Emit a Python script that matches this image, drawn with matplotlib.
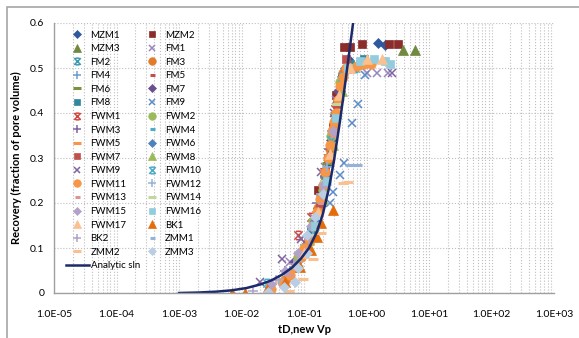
import matplotlib
matplotlib.use('Agg')
import matplotlib.pyplot as plt
from matplotlib.path import Path
from matplotlib.patches import Rectangle
from matplotlib.ticker import FixedLocator, LogLocator, NullFormatter

plt.rcParams['font.family'] = ['Lato', 'DejaVu Sans']

# x-star marker (x with bars top and bottom), like Excel's "star"
xstar = Path([(-1, -1), (1, 1), (-1, 1), (1, -1), (-0.6, 1), (0.6, 1), (-0.6, -1), (0.6, -1)],
             [Path.MOVETO, Path.LINETO, Path.MOVETO, Path.LINETO,
              Path.MOVETO, Path.LINETO, Path.MOVETO, Path.LINETO])

series_names = ['MZM1', 'MZM2', 'MZM3', 'FM1', 'FM2', 'FM3', 'FM4', 'FM5', 'FM6', 'FM7', 'FM8', 'FM9',
                'FWM1', 'FWM2', 'FWM3', 'FWM4', 'FWM5', 'FWM6', 'FWM7', 'FWM8', 'FWM9', 'FWM10',
                'FWM11', 'FWM12', 'FWM13', 'FWM14', 'FWM15', 'FWM16', 'FWM17', 'BK1', 'BK2',
                'ZMM1', 'ZMM2', 'ZMM3']

mzm1_x = [0.11, 0.17, 0.24, 0.3, 0.37, 0.5, 1.5, 2.0]
mzm1_y = [0.11, 0.19, 0.29, 0.37, 0.45, 0.52, 0.555, 0.55]
mzm2_x = [0.1, 0.17, 0.22, 0.29, 0.33, 0.4, 0.43, 0.55, 0.85, 2.3, 3.2]
mzm2_y = [0.09, 0.23, 0.27, 0.37, 0.44, 0.48, 0.547, 0.547, 0.553, 0.553, 0.553]
mzm3_x = [0.14, 0.22, 0.32, 0.45, 3.8, 5.9]
mzm3_y = [0.15, 0.26, 0.4, 0.5, 0.54, 0.54]
fm1_x = [0.06, 0.14, 0.22, 0.33, 1.0, 1.45, 2.2]
fm1_y = [0.07, 0.17, 0.28, 0.43, 0.49, 0.49, 0.49]
fm2_x = [0.07, 0.13, 0.21, 0.3, 0.52]
fm2_y = [0.06, 0.13, 0.25, 0.39, 0.5]
fm3_x = [0.05, 0.09, 0.13, 0.17, 0.22, 0.26, 0.3, 0.35, 0.42]
fm3_y = [0.03, 0.08, 0.13, 0.19, 0.26, 0.32, 0.37, 0.43, 0.49]
fm4_x = [0.06, 0.11, 0.19, 0.28, 0.4]
fm4_y = [0.05, 0.11, 0.22, 0.36, 0.48]
fm5_x = [0.08, 0.15, 0.25, 0.36]
fm5_y = [0.07, 0.17, 0.31, 0.44]
fm6_x = [0.09, 0.16, 0.23, 0.31]
fm6_y = [0.09, 0.18, 0.29, 0.4]
fm7_x = [0.07, 0.12, 0.2, 0.27, 0.35]
fm7_y = [0.07, 0.12, 0.24, 0.34, 0.45]
fm8_x = [0.13, 0.19, 0.26, 0.55, 0.9]
fm8_y = [0.14, 0.21, 0.3, 0.51, 0.52]
fm9_x = [0.26, 0.29, 0.38, 0.44, 0.59, 0.73, 0.95]
fm9_y = [0.2, 0.224, 0.262, 0.29, 0.378, 0.42, 0.484]
fwm1_x = [0.079, 0.13, 0.21, 0.31]
fwm1_y = [0.128, 0.17, 0.27, 0.41]
fwm2_x = [0.08, 0.14, 0.2, 0.27, 0.38]
fwm2_y = [0.08, 0.16, 0.23, 0.35, 0.47]
fwm3_x = [0.05, 0.09, 0.16, 0.25]
fwm3_y = [0.05, 0.09, 0.2, 0.32]
fwm4_x = [0.1, 0.18, 0.27, 0.42]
fwm4_y = [0.1, 0.2, 0.33, 0.49]
fwm5_x = [0.07, 0.12, 0.2, 0.3]
fwm5_y = [0.05, 0.11, 0.22, 0.37]
fwm6_x = [0.09, 0.15, 0.22, 0.31, 0.45, 0.8]
fwm6_y = [0.09, 0.16, 0.26, 0.38, 0.5, 0.51]
fwm7_x = [0.11, 0.18, 0.24, 0.34, 0.47]
fwm7_y = [0.11, 0.2, 0.3, 0.42, 0.52]
fwm8_x = [0.12, 0.2, 0.29, 0.41, 0.7]
fwm8_y = [0.12, 0.21, 0.33, 0.45, 0.51]
fwm9_x = [0.02, 0.045, 0.09, 0.19, 0.3, 0.6, 2.6]
fwm9_y = [0.025, 0.075, 0.12, 0.27, 0.4, 0.5, 0.49]
fwm10_x = [0.026, 0.1, 0.18, 0.27, 0.4, 0.65]
fwm10_y = [0.022, 0.1, 0.21, 0.34, 0.48, 0.5]
fwm11_x = [0.03, 0.045, 0.06, 0.075, 0.09, 0.1, 0.12, 0.14, 0.16, 0.18, 0.2, 0.22, 0.24,
           0.26, 0.28, 0.3, 0.32, 0.35, 0.38, 0.42, 0.47, 0.55, 0.7, 0.9, 1.2]
fwm11_y = [0.01, 0.025, 0.04, 0.06, 0.08, 0.1, 0.12, 0.15, 0.18, 0.21, 0.24, 0.27, 0.3,
           0.33, 0.36, 0.38, 0.4, 0.43, 0.46, 0.48, 0.5, 0.5, 0.505, 0.51, 0.51]
fwm12_x = [0.04, 0.08, 0.14, 0.23]
fwm12_y = [0.03, 0.07, 0.14, 0.28]
fwm13_x = [0.06, 0.11, 0.19, 0.29]
fwm13_y = [0.04, 0.1, 0.2, 0.35]
fwm14_x = [0.08, 0.14, 0.22, 0.34]
fwm14_y = [0.06, 0.13, 0.25, 0.42]
fwm15_x = [0.03, 0.05, 0.08, 0.13, 0.2, 0.29]
fwm15_y = [0.02, 0.05, 0.09, 0.15, 0.24, 0.36]
fwm16_x = [0.15, 0.23, 0.32, 0.5, 0.8, 1.3, 2.0, 2.4]
fwm16_y = [0.15, 0.25, 0.39, 0.5, 0.515, 0.52, 0.515, 0.51]
fwm17_x = [0.1, 0.17, 0.26, 0.36, 0.55, 1.0, 1.8]
fwm17_y = [0.09, 0.18, 0.31, 0.44, 0.5, 0.52, 0.52]
bk1_x = [0.007, 0.0114, 0.026, 0.05, 0.087, 0.13, 0.16, 0.19, 0.29]
bk1_y = [0.0, 0.0, 0.01, 0.024, 0.058, 0.096, 0.124, 0.155, 0.184]
bk2_x = [0.015, 0.035, 0.07, 0.12, 0.19]
bk2_y = [0.005, 0.03, 0.065, 0.12, 0.22]
zmm1_x = [0.5, 0.58, 0.66, 0.75]
zmm1_y = [0.285, 0.285, 0.284, 0.284]
zmm2_x = [0.058, 0.095, 0.14, 0.19, 0.42, 0.5]
zmm2_y = [0.004, 0.031, 0.075, 0.133, 0.244, 0.246]
zmm3_x = [0.027, 0.047, 0.072, 0.08, 0.11, 0.11, 0.15, 0.2]
zmm3_y = [0.002, 0.013, 0.025, 0.056, 0.09, 0.128, 0.17, 0.22]

# analytic solution
sln_x = [1.0e-3, 2e-3, 4e-3, 7e-3, 0.012, 0.02, 0.03, 0.045, 0.065, 0.09, 0.12, 0.16,
         0.2, 0.25, 0.3, 0.37, 0.45, 0.53, 0.61]
sln_y = [0.0, 0.001, 0.003, 0.006, 0.011, 0.019, 0.028, 0.041, 0.057, 0.077, 0.1, 0.135,
         0.175, 0.232, 0.292, 0.375, 0.46, 0.535, 0.6]

series_x = [mzm1_x, mzm2_x, mzm3_x, fm1_x, fm2_x, fm3_x, fm4_x, fm5_x, fm6_x, fm7_x, fm8_x, fm9_x,
            fwm1_x, fwm2_x, fwm3_x, fwm4_x, fwm5_x, fwm6_x, fwm7_x, fwm8_x, fwm9_x, fwm10_x,
            fwm11_x, fwm12_x, fwm13_x, fwm14_x, fwm15_x, fwm16_x, fwm17_x, bk1_x, bk2_x,
            zmm1_x, zmm2_x, zmm3_x]
series_y = [mzm1_y, mzm2_y, mzm3_y, fm1_y, fm2_y, fm3_y, fm4_y, fm5_y, fm6_y, fm7_y, fm8_y, fm9_y,
            fwm1_y, fwm2_y, fwm3_y, fwm4_y, fwm5_y, fwm6_y, fwm7_y, fwm8_y, fwm9_y, fwm10_y,
            fwm11_y, fwm12_y, fwm13_y, fwm14_y, fwm15_y, fwm16_y, fwm17_y, bk1_y, bk2_y,
            zmm1_y, zmm2_y, zmm3_y]

# marker style per series: (marker, size, colour, edge width)
styles = [
    ('D', 5, '#2E5A9C', 0.5), ('s', 6.2, '#8B2E2B', 0.5), ('^', 6.8, '#71893F', 0.5),
    ('x', 6, '#9A86BE', 1.1), (xstar, 6, '#3C9BB0', 1.1), ('o', 6.8, '#E27B2A', 0.5),
    ('+', 6.5, '#6D9BD3', 1.1), ('_', 4.5, '#C0504D', 2.2), ('_', 7.5, '#77933C', 2.2),
    ('D', 5, '#6A4F8C', 0.5), ('s', 6.2, '#31889E', 0.5), ('x', 6, '#5B8BC9', 1.1),
    (xstar, 6, '#D0473F', 1.1), ('o', 6.8, '#9BBB59', 0.5), ('+', 6.5, '#8064A2', 1.1),
    ('_', 4.5, '#4BACC6', 2.2), ('_', 7.5, '#F79646', 2.2), ('D', 5, '#4F81BD', 0.5),
    ('s', 6.2, '#C0504D', 0.5), ('^', 6.8, '#9BBB59', 0.5), ('x', 6, '#8064A2', 1.1),
    (xstar, 6, '#4BACC6', 1.1), ('o', 6.8, '#F79646', 0.5), ('+', 6.5, '#95B3D7', 1.1),
    ('_', 4.5, '#D99694', 2.2), ('_', 7.5, '#C3D69B', 2.2), ('D', 5, '#B3A2C7', 0.5),
    ('s', 6.2, '#93CDDD', 0.5), ('^', 6.8, '#FAC090', 0.5), ('^', 6.8, '#E46C0A', 0.5),
    ('+', 6.5, '#B3A2C7', 1.1), ('_', 4.5, '#95B3D7', 2.2), ('_', 7.5, '#FAC090', 2.2),
    ('D', 5, '#B9CDE5', 0.5),
]

fig = plt.figure(figsize=(5.79, 3.38), dpi=100)
ax = fig.add_axes([54 / 579, 1 - 293 / 338, 500 / 579, 270 / 338])

# chart border
fig.patches.append(Rectangle((7 / 579, -0.05), 1.1, 1 - 7 / 338 + 0.05, transform=fig.transFigure,
                             fill=False, edgecolor='#A6A6A6', lw=1.2))

handles = {}
for name, xs, ys, (mk, ms, col, mew) in zip(series_names, series_x, series_y, styles):
    h, = ax.plot(xs, ys, linestyle='none', marker=mk, markersize=ms, color=col,
                 markeredgecolor=col, markeredgewidth=mew, label=name)
    handles[name] = h

h, = ax.plot(sln_x, sln_y, color='#1B2A6B', lw=1.8, label='Analytic sln')
handles['Analytic sln'] = h

ax.set_xscale('log')
ax.set_xlim(1e-5, 1e3)
ax.set_ylim(0, 0.6)
ax.xaxis.set_major_locator(FixedLocator([10.0 ** k for k in range(-5, 4)]))
ax.xaxis.set_minor_locator(LogLocator(base=10, subs=range(2, 10), numticks=20))
ax.xaxis.set_minor_formatter(NullFormatter())
ax.set_xticklabels(['1.0E-05', '1.0E-04', '1.0E-03', '1.0E-02', '1.0E-01',
                    '1.0E+00', '1.0E+01', '1.0E+02', '1.0E+03'])
ax.set_yticks([0, 0.1, 0.2, 0.3, 0.4, 0.5, 0.6])
ax.set_yticklabels(['0', '0.1', '0.2', '0.3', '0.4', '0.5', '0.6'])
ax.tick_params(axis='x', which='both', length=0, pad=12, labelsize=7.5)
ax.tick_params(axis='y', length=0, pad=7, labelsize=7.5)

ax.grid(True, which='major', axis='both', color='#BFBFBF', linestyle=':', lw=0.8)
ax.grid(True, which='minor', axis='x', color='#BFBFBF', linestyle=':', lw=0.8)
ax.set_axisbelow(True)
for s in ['top', 'right']:
    ax.spines[s].set_visible(False)
for s in ['left', 'bottom']:
    ax.spines[s].set_color('#A0A0A0')
    ax.spines[s].set_linewidth(1.0)

ax.set_xlabel('tD,new Vp', fontsize=8, fontweight='bold', labelpad=4)
ax.set_ylabel('Recovery (fraction of pore volume)', fontsize=8, fontweight='bold', labelpad=6)

# Excel fills the legend row by row; matplotlib fills column by column
order = series_names + ['Analytic sln']
leg_order = order[0::2] + order[1::2]
ax.legend([handles[n] for n in leg_order], leg_order, ncol=2, loc='upper left',
          bbox_to_anchor=(0.01, 0.997), frameon=False, fontsize=7, handlelength=2.4,
          handletextpad=0.15, labelspacing=0.47, columnspacing=0.05, borderpad=0.2,
          markerscale=0.8)

fig.savefig('out.png', dpi=100)
